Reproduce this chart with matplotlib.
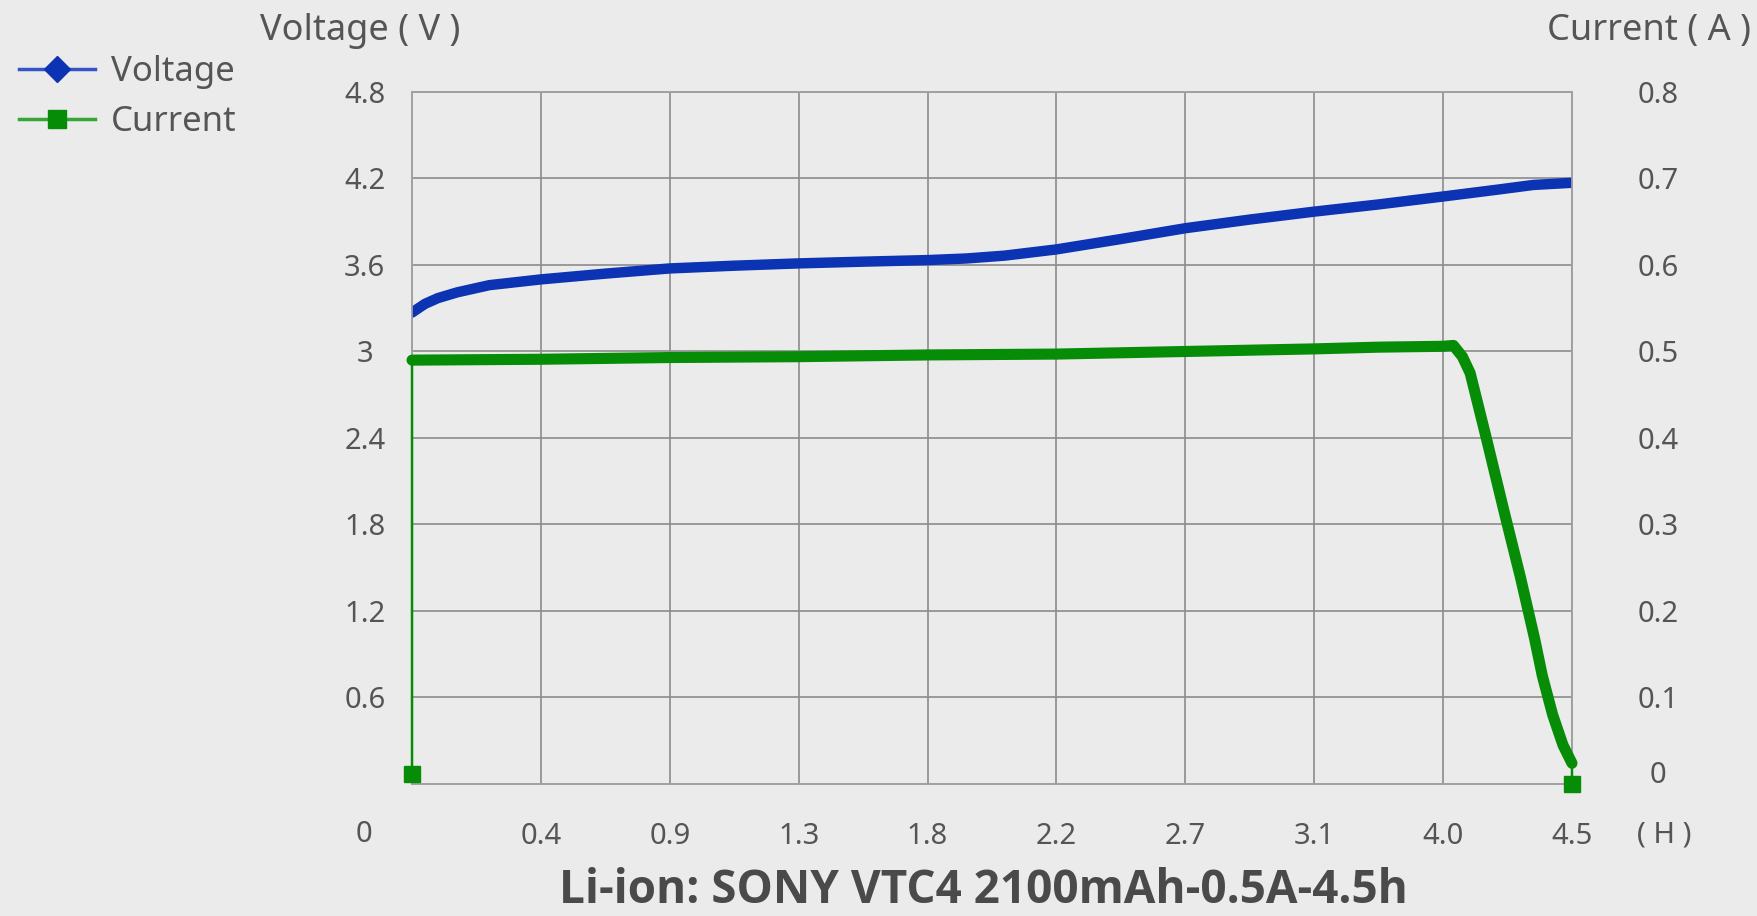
import numpy as np
import matplotlib
matplotlib.use('Agg')
import matplotlib.pyplot as plt
from matplotlib.lines import Line2D

plt.rcParams['font.family'] = ['Noto Sans', 'DejaVu Sans']

# x = index of the grid column, labels are the hours printed under each line
hour_labels = ['0.4', '0.9', '1.3', '1.8', '2.2', '2.7', '3.1', '4.0', '4.5']
volt_ticks = [0.6, 1.2, 1.8, 2.4, 3, 3.6, 4.2, 4.8]
volt_tick_labels = ['0.6', '1.2', '1.8', '2.4', '3', '3.6', '4.2', '4.8']
amp_ticks = [0.1, 0.2, 0.3, 0.4, 0.5, 0.6, 0.7, 0.8]

# voltage curve (V)
v_pos = [0, 0.1, 0.2, 0.35, 0.6, 1.0, 1.5, 2, 2.5, 3, 3.5, 4, 4.3, 4.6, 5, 5.5, 6, 6.5, 7, 7.5,
         8, 8.4, 8.7, 9]
voltage = [3.27, 3.33, 3.37, 3.41, 3.46, 3.50, 3.54, 3.576, 3.595, 3.611, 3.623, 3.634, 3.645,
           3.665, 3.708, 3.78, 3.855, 3.915, 3.97, 4.02, 4.075, 4.12, 4.155, 4.17]

# current curve (A), first and last points are the square markers
i_pos = [0, 0, 1, 2, 3, 4, 5, 6, 7, 7.5, 8, 8.08, 8.15, 8.21, 8.34, 8.47, 8.6, 8.71, 8.77,
         8.85, 8.93, 9, 9]
current = [0.012, 0.490, 0.491, 0.493, 0.494, 0.496, 0.497, 0.500, 0.503, 0.505, 0.506, 0.507,
           0.494, 0.475, 0.397, 0.317, 0.239, 0.168, 0.125, 0.080, 0.045, 0.024, 0.0]

blue = '#0b33b3'
green = '#078c07'
txt = '#555555'

fig = plt.figure(figsize=(17.57, 9.16), dpi=100)
fig.patch.set_facecolor('#ebebeb')
ax = fig.add_axes([0.2345, 0.1441, 0.6602, 0.7555])
ax.set_facecolor('none')
ax2 = ax.twinx()

ax.set_xlim(0, 9)
ax.set_ylim(0, 4.8)
ax2.set_ylim(0, 0.8)

ax.set_xticks(range(1, 10))
ax.set_xticklabels(hour_labels)
ax.set_yticks(volt_ticks)
ax.set_yticklabels(volt_tick_labels)
ax2.set_yticks(amp_ticks)
ax2.set_yticklabels([f'{t:.1f}' for t in amp_ticks])

ax.grid(True, color='#8c8c8c', lw=1.2)
for a in (ax, ax2):
    for s in a.spines.values():
        s.set_color('#a0a0a0')
        s.set_linewidth(1.2)
    a.tick_params(length=0, colors=txt, labelsize=21)
ax.tick_params(axis='x', pad=27)
ax.tick_params(axis='y', pad=34)
ax2.tick_params(axis='y', pad=62)
for lab in ax.get_yticklabels() + ax2.get_yticklabels():
    lab.set_horizontalalignment('center')

# the "0" of the current scale sits a little above the bottom line
ax2.annotate('0', xy=(1, 0), xycoords='axes fraction', xytext=(62, 6),
             textcoords='offset points', ha='center', va='center', fontsize=21, color=txt)

ax.plot(v_pos, voltage, color=blue, lw=7.5, solid_capstyle='round', solid_joinstyle='round', zorder=5)
ax2.plot(i_pos, current, color=green, lw=1.8, marker='s', ms=11, markevery=[0, -1],
         clip_on=False, zorder=4)
ax2.plot(i_pos[1:-1], current[1:-1], color=green, lw=8, solid_capstyle='round',
         solid_joinstyle='round', clip_on=False, zorder=5)

fig.text(260 / 1757, 1 - 31 / 916, 'Voltage ( V )', fontsize=26, color=txt, ha='left', va='center')
fig.text(1751 / 1757, 1 - 31 / 916, 'Current ( A )', fontsize=26, color=txt, ha='right', va='center')
fig.text(364 / 1757, 1 - 835 / 916, '0', fontsize=21, color=txt, ha='center', va='center')
fig.text(1664 / 1757, 1 - 835 / 916, '( H )', fontsize=21, color=txt, ha='center', va='center')
fig.text(983 / 1757, 1 - 903 / 916, 'Li-ion: SONY VTC4 2100mAh-0.5A-4.5h', fontsize=33,
         family=['Open Sans', 'DejaVu Sans'], fontweight='bold', color='#4a4a4a',
         ha='center', va='baseline')

handles = [Line2D([], [], color='#3454c8', lw=2.5, marker='D', ms=13, mfc=blue, mec=blue),
           Line2D([], [], color='#35a535', lw=2.5, marker='s', ms=13, mfc=green, mec=green)]
fig.legend(handles, ['Voltage', 'Current'], loc='upper left', bbox_to_anchor=(-0.007, 0.974),
           frameon=False, fontsize=25, labelcolor=txt, handlelength=2.2, handletextpad=0.45,
           labelspacing=0.45)

fig.savefig('out.png', dpi=100, facecolor=fig.get_facecolor())
